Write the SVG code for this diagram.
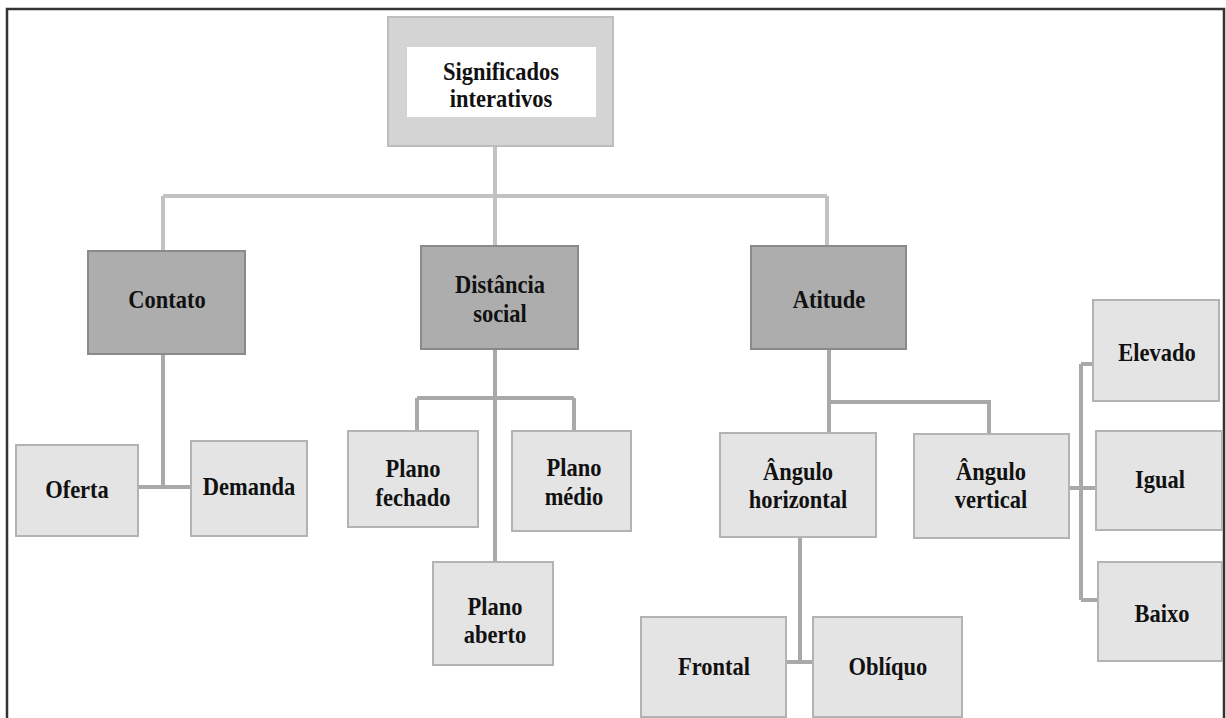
<svg xmlns="http://www.w3.org/2000/svg" width="1226" height="718" viewBox="0 0 1226 718">
<style>
.t{font-family:"Liberation Serif","Times New Roman",serif;font-weight:bold;font-size:22.5px;fill:#111;text-anchor:middle}
.dark{fill:#adadad;stroke:#8a8a8a;stroke-width:2}
.light{fill:#e4e4e4;stroke:#b3b3b3;stroke-width:2}
.c1{fill:none;stroke:#c2c2c2;stroke-width:4}
.c2{fill:none;stroke:#a9a9a9;stroke-width:4}
</style>
<rect x="0" y="0" width="1226" height="718" fill="#ffffff"/>
<rect x="7" y="9" width="1217" height="720" fill="none" stroke="#333333" stroke-width="2.5"/>
<g id="connectors">
<path class="c1" d="M495,146V196M163,196H827M163,196V251M495,196V246M827,196V246"/>
<path class="c2" d="M163,354V487M138,487H191"/>
<path class="c2" d="M495,349V562M417,398H574M417,398V431M574,398V431"/>
<path class="c2" d="M829,349V433M829,402H989V434"/>
<path class="c2" d="M800,537V662M786,662H813"/>
<path class="c2" d="M1081,364V600M1081,364H1093M1069,488H1096M1081,600H1098"/>
</g>
<g id="n-significados">
<rect x="388" y="17" width="225" height="129" fill="#d4d4d4" stroke="#bdbdbd" stroke-width="2"/>
<rect x="407" y="47" width="189" height="70" fill="#ffffff"/>
<text class="t" x="501" y="69.57" transform="scale(1,1.15)">Significados</text>
<text class="t" x="501" y="93.04" transform="scale(1,1.15)">interativos</text>
</g>
<g id="n-contato">
<rect class="dark" x="88" y="251" width="157" height="103"/>
<text class="t" x="167" y="267.83" transform="scale(1,1.15)">Contato</text>
</g>
<g id="n-distancia">
<rect class="dark" x="421" y="246" width="157" height="103"/>
<text class="t" x="500" y="254.78" transform="scale(1,1.15)">Distância</text>
<text class="t" x="500" y="280" transform="scale(1,1.15)">social</text>
</g>
<g id="n-atitude">
<rect class="dark" x="751" y="246" width="155" height="103"/>
<text class="t" x="829" y="267.83" transform="scale(1,1.15)">Atitude</text>
</g>
<g id="n-oferta">
<rect class="light" x="16" y="445" width="122" height="91"/>
<text class="t" x="77" y="433.04" transform="scale(1,1.15)">Oferta</text>
</g>
<g id="n-demanda">
<rect class="light" x="191" y="441" width="116" height="95"/>
<text class="t" x="249" y="430.43" transform="scale(1,1.15)">Demanda</text>
</g>
<g id="n-plano-fechado">
<rect class="light" x="348" y="431" width="130" height="96"/>
<text class="t" x="413" y="414.78" transform="scale(1,1.15)">Plano</text>
<text class="t" x="413" y="440" transform="scale(1,1.15)">fechado</text>
</g>
<g id="n-plano-medio">
<rect class="light" x="512" y="431" width="119" height="100"/>
<text class="t" x="574" y="413.91" transform="scale(1,1.15)">Plano</text>
<text class="t" x="574" y="439.13" transform="scale(1,1.15)">médio</text>
</g>
<g id="n-plano-aberto">
<rect class="light" x="433" y="562" width="120" height="103"/>
<text class="t" x="495" y="534.78" transform="scale(1,1.15)">Plano</text>
<text class="t" x="495" y="559.13" transform="scale(1,1.15)">aberto</text>
</g>
<g id="n-angulo-horizontal">
<rect class="light" x="720" y="433" width="156" height="104"/>
<text class="t" x="798" y="417.39" transform="scale(1,1.15)">Ângulo</text>
<text class="t" x="798" y="441.74" transform="scale(1,1.15)">horizontal</text>
</g>
<g id="n-angulo-vertical">
<rect class="light" x="914" y="434" width="155" height="104"/>
<text class="t" x="991" y="417.39" transform="scale(1,1.15)">Ângulo</text>
<text class="t" x="991" y="441.74" transform="scale(1,1.15)">vertical</text>
</g>
<g id="n-elevado">
<rect class="light" x="1093" y="300" width="126" height="101"/>
<text class="t" x="1157" y="313.91" transform="scale(1,1.15)">Elevado</text>
</g>
<g id="n-igual">
<rect class="light" x="1096" y="431" width="126" height="99"/>
<text class="t" x="1160" y="424.35" transform="scale(1,1.15)">Igual</text>
</g>
<g id="n-baixo">
<rect class="light" x="1098" y="562" width="124" height="99"/>
<text class="t" x="1162" y="540.87" transform="scale(1,1.15)">Baixo</text>
</g>
<g id="n-frontal">
<rect class="light" x="641" y="617" width="145" height="100"/>
<text class="t" x="714" y="586.96" transform="scale(1,1.15)">Frontal</text>
</g>
<g id="n-obliquo">
<rect class="light" x="813" y="617" width="149" height="100"/>
<text class="t" x="888" y="586.96" transform="scale(1,1.15)">Oblíquo</text>
</g>
</svg>
